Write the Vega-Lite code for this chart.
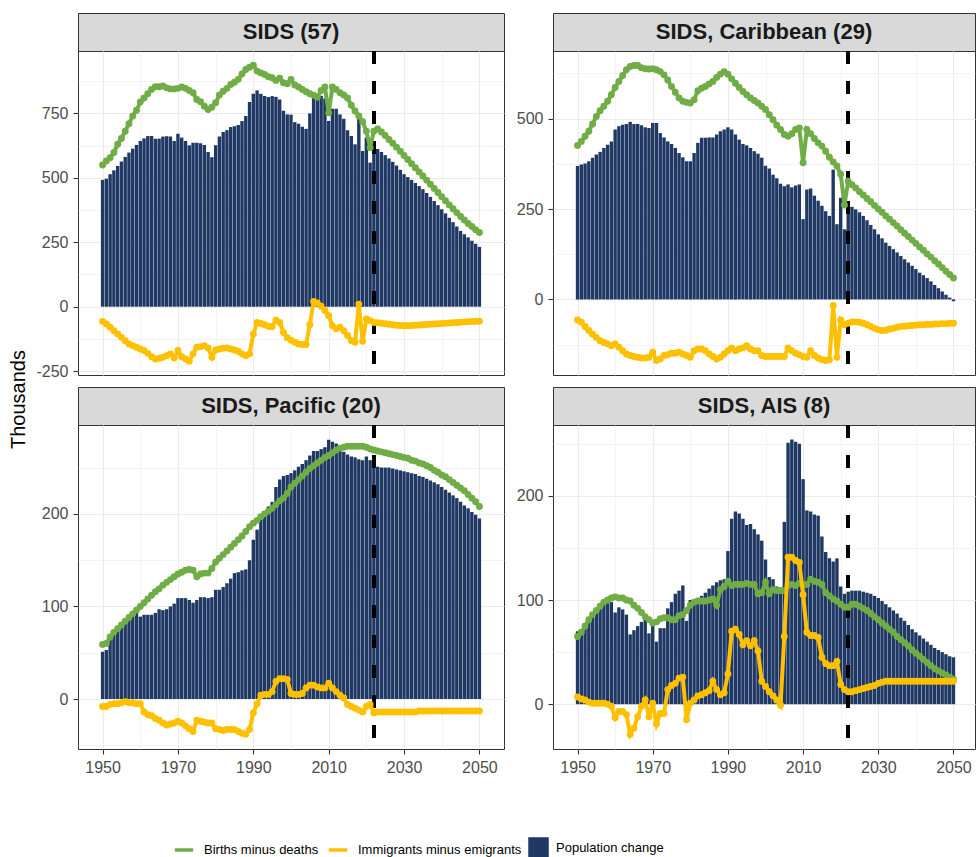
{
"$schema": "https://vega.github.io/schema/vega-lite/v6.json",
"background": "white",
"autosize": {"type": "pad"},
"padding": {"left": 7, "top": 12, "right": 0, "bottom": 0},
"datasets": {
"sids": [
{"year":1950,"pop":492,"nat":550,"mig":-57},{"year":1951,"pop":496,"nat":565,"mig":-67},{"year":1952,"pop":514,"nat":578,"mig":-80},{"year":1953,"pop":529,"nat":598,"mig":-93},{"year":1954,"pop":546,"nat":630,"mig":-106},{"year":1955,"pop":563,"nat":653,"mig":-119},{"year":1956,"pop":581,"nat":681,"mig":-132},{"year":1957,"pop":598,"nat":710,"mig":-145},{"year":1958,"pop":613,"nat":740,"mig":-151},{"year":1959,"pop":627,"nat":762,"mig":-157},
{"year":1960,"pop":643,"nat":794,"mig":-164},{"year":1961,"pop":653,"nat":810,"mig":-170},{"year":1962,"pop":662,"nat":826,"mig":-181},{"year":1963,"pop":662,"nat":843,"mig":-194},{"year":1964,"pop":652,"nat":853,"mig":-203},{"year":1965,"pop":652,"nat":853,"mig":-200},{"year":1966,"pop":660,"nat":856,"mig":-196},{"year":1967,"pop":661,"nat":849,"mig":-190},{"year":1968,"pop":660,"nat":845,"mig":-183},{"year":1969,"pop":643,"nat":845,"mig":-199},
{"year":1970,"pop":671,"nat":847,"mig":-170},{"year":1971,"pop":656,"nat":852,"mig":-194},{"year":1972,"pop":643,"nat":847,"mig":-203},{"year":1973,"pop":626,"nat":839,"mig":-212},{"year":1974,"pop":636,"nat":830,"mig":-183},{"year":1975,"pop":636,"nat":804,"mig":-157},{"year":1976,"pop":634,"nat":795,"mig":-155},{"year":1977,"pop":627,"nat":778,"mig":-151},{"year":1978,"pop":600,"nat":765,"mig":-160},{"year":1979,"pop":580,"nat":774,"mig":-196},
{"year":1980,"pop":626,"nat":791,"mig":-168},{"year":1981,"pop":660,"nat":821,"mig":-164},{"year":1982,"pop":678,"nat":836,"mig":-161},{"year":1983,"pop":685,"nat":847,"mig":-160},{"year":1984,"pop":697,"nat":862,"mig":-164},{"year":1985,"pop":700,"nat":871,"mig":-168},{"year":1986,"pop":705,"nat":882,"mig":-173},{"year":1987,"pop":720,"nat":903,"mig":-183},{"year":1988,"pop":740,"nat":920,"mig":-190},{"year":1989,"pop":794,"nat":929,"mig":-183},
{"year":1990,"pop":826,"nat":937,"mig":-106},{"year":1991,"pop":839,"nat":914,"mig":-61},{"year":1992,"pop":826,"nat":907,"mig":-65},{"year":1993,"pop":817,"nat":901,"mig":-70},{"year":1994,"pop":814,"nat":892,"mig":-77},{"year":1995,"pop":817,"nat":888,"mig":-77},{"year":1996,"pop":814,"nat":878,"mig":-52},{"year":1997,"pop":804,"nat":886,"mig":-61},{"year":1998,"pop":760,"nat":869,"mig":-100},{"year":1999,"pop":746,"nat":865,"mig":-120},
{"year":2000,"pop":745,"nat":882,"mig":-130},{"year":2001,"pop":716,"nat":860,"mig":-138},{"year":2002,"pop":710,"nat":852,"mig":-145},{"year":2003,"pop":698,"nat":843,"mig":-147},{"year":2004,"pop":690,"nat":834,"mig":-147},{"year":2005,"pop":750,"nat":826,"mig":-70},{"year":2006,"pop":830,"nat":820,"mig":20},{"year":2007,"pop":825,"nat":813,"mig":14},{"year":2008,"pop":818,"nat":839,"mig":2},{"year":2009,"pop":808,"nat":852,"mig":-15},
{"year":2010,"pop":720,"nat":752,"mig":-35},{"year":2011,"pop":768,"nat":852,"mig":-74},{"year":2012,"pop":768,"nat":843,"mig":-86},{"year":2013,"pop":746,"nat":830,"mig":-80},{"year":2014,"pop":729,"nat":821,"mig":-93},{"year":2015,"pop":685,"nat":810,"mig":-112},{"year":2016,"pop":662,"nat":782,"mig":-132},{"year":2017,"pop":630,"nat":759,"mig":-138},{"year":2018,"pop":729,"nat":740,"mig":10},{"year":2019,"pop":604,"nat":718,"mig":-134},
{"year":2020,"pop":656,"nat":681,"mig":-48},{"year":2021,"pop":559,"nat":617,"mig":-54},{"year":2022,"pop":620,"nat":681,"mig":-61},{"year":2023,"pop":612,"nat":690,"mig":-62},{"year":2024,"pop":600,"nat":678,"mig":-64},{"year":2025,"pop":588,"nat":664,"mig":-66},{"year":2026,"pop":575,"nat":649,"mig":-68},{"year":2027,"pop":562,"nat":634,"mig":-70},{"year":2028,"pop":548,"nat":619,"mig":-72},{"year":2029,"pop":531,"nat":603,"mig":-73},
{"year":2030,"pop":514,"nat":587,"mig":-74},{"year":2031,"pop":503,"nat":571,"mig":-74},{"year":2032,"pop":492,"nat":555,"mig":-73},{"year":2033,"pop":480,"nat":539,"mig":-72},{"year":2034,"pop":468,"nat":523,"mig":-71},{"year":2035,"pop":456,"nat":507,"mig":-70},{"year":2036,"pop":441,"nat":491,"mig":-69},{"year":2037,"pop":426,"nat":475,"mig":-68},{"year":2038,"pop":410,"nat":459,"mig":-67},{"year":2039,"pop":394,"nat":443,"mig":-66},
{"year":2040,"pop":378,"nat":427,"mig":-65},{"year":2041,"pop":362,"nat":411,"mig":-64},{"year":2042,"pop":345,"nat":395,"mig":-63},{"year":2043,"pop":328,"nat":380,"mig":-62},{"year":2044,"pop":311,"nat":365,"mig":-61},{"year":2045,"pop":294,"nat":350,"mig":-60},{"year":2046,"pop":281,"nat":336,"mig":-59},{"year":2047,"pop":269,"nat":323,"mig":-58},{"year":2048,"pop":256,"nat":311,"mig":-57},{"year":2049,"pop":244,"nat":299,"mig":-57},
{"year":2050,"pop":232,"nat":288,"mig":-56}
],
"car": [
{"year":1950,"pop":369,"nat":426,"mig":-57},{"year":1951,"pop":373,"nat":437,"mig":-63},{"year":1952,"pop":376,"nat":451,"mig":-75},{"year":1953,"pop":382,"nat":465,"mig":-86},{"year":1954,"pop":392,"nat":485,"mig":-96},{"year":1955,"pop":401,"nat":506,"mig":-105},{"year":1956,"pop":408,"nat":522,"mig":-114},{"year":1957,"pop":419,"nat":534,"mig":-119},{"year":1958,"pop":428,"nat":548,"mig":-123},{"year":1959,"pop":437,"nat":566,"mig":-128},
{"year":1960,"pop":470,"nat":586,"mig":-123},{"year":1961,"pop":479,"nat":603,"mig":-132},{"year":1962,"pop":483,"nat":619,"mig":-142},{"year":1963,"pop":485,"nat":635,"mig":-151},{"year":1964,"pop":491,"nat":644,"mig":-155},{"year":1965,"pop":485,"nat":647,"mig":-158},{"year":1966,"pop":485,"nat":647,"mig":-160},{"year":1967,"pop":482,"nat":641,"mig":-162},{"year":1968,"pop":476,"nat":638,"mig":-162},{"year":1969,"pop":474,"nat":637,"mig":-160},
{"year":1970,"pop":488,"nat":638,"mig":-146},{"year":1971,"pop":488,"nat":635,"mig":-169},{"year":1972,"pop":460,"nat":630,"mig":-165},{"year":1973,"pop":448,"nat":621,"mig":-155},{"year":1974,"pop":437,"nat":607,"mig":-153},{"year":1975,"pop":430,"nat":589,"mig":-149},{"year":1976,"pop":419,"nat":573,"mig":-149},{"year":1977,"pop":405,"nat":557,"mig":-146},{"year":1978,"pop":393,"nat":548,"mig":-151},{"year":1979,"pop":382,"nat":545,"mig":-155},
{"year":1980,"pop":382,"nat":543,"mig":-160},{"year":1981,"pop":405,"nat":552,"mig":-142},{"year":1982,"pop":433,"nat":577,"mig":-137},{"year":1983,"pop":447,"nat":584,"mig":-137},{"year":1984,"pop":447,"nat":589,"mig":-142},{"year":1985,"pop":448,"nat":596,"mig":-151},{"year":1986,"pop":448,"nat":603,"mig":-158},{"year":1987,"pop":456,"nat":614,"mig":-165},{"year":1988,"pop":465,"nat":623,"mig":-160},{"year":1989,"pop":470,"nat":630,"mig":-151},
{"year":1990,"pop":476,"nat":623,"mig":-142},{"year":1991,"pop":470,"nat":610,"mig":-134},{"year":1992,"pop":456,"nat":598,"mig":-142},{"year":1993,"pop":442,"nat":586,"mig":-137},{"year":1994,"pop":430,"nat":575,"mig":-134},{"year":1995,"pop":426,"nat":566,"mig":-128},{"year":1996,"pop":419,"nat":557,"mig":-137},{"year":1997,"pop":410,"nat":550,"mig":-142},{"year":1998,"pop":403,"nat":543,"mig":-142},{"year":1999,"pop":392,"nat":534,"mig":-155},
{"year":2000,"pop":370,"nat":525,"mig":-158},{"year":2001,"pop":362,"nat":511,"mig":-158},{"year":2002,"pop":345,"nat":497,"mig":-158},{"year":2003,"pop":335,"nat":482,"mig":-158},{"year":2004,"pop":320,"nat":470,"mig":-158},{"year":2005,"pop":313,"nat":456,"mig":-158},{"year":2006,"pop":318,"nat":451,"mig":-134},{"year":2007,"pop":310,"nat":458,"mig":-142},{"year":2008,"pop":315,"nat":470,"mig":-149},{"year":2009,"pop":318,"nat":474,"mig":-153},
{"year":2010,"pop":222,"nat":378,"mig":-158},{"year":2011,"pop":304,"nat":470,"mig":-160},{"year":2012,"pop":307,"nat":458,"mig":-142},{"year":2013,"pop":287,"nat":445,"mig":-155},{"year":2014,"pop":273,"nat":433,"mig":-162},{"year":2015,"pop":259,"nat":424,"mig":-167},{"year":2016,"pop":244,"nat":410,"mig":-169},{"year":2017,"pop":231,"nat":393,"mig":-167},{"year":2018,"pop":359,"nat":380,"mig":-17},{"year":2019,"pop":208,"nat":369,"mig":-160},
{"year":2020,"pop":281,"nat":346,"mig":-57},{"year":2021,"pop":194,"nat":261,"mig":-70},{"year":2022,"pop":262,"nat":327,"mig":-66},{"year":2023,"pop":256,"nat":317,"mig":-62},{"year":2024,"pop":249,"nat":308,"mig":-62},{"year":2025,"pop":241,"nat":298,"mig":-63},{"year":2026,"pop":231,"nat":289,"mig":-66},{"year":2027,"pop":219,"nat":279,"mig":-70},{"year":2028,"pop":206,"nat":270,"mig":-75},{"year":2029,"pop":194,"nat":260,"mig":-80},
{"year":2030,"pop":180,"nat":250,"mig":-84},{"year":2031,"pop":169,"nat":241,"mig":-86},{"year":2032,"pop":157,"nat":231,"mig":-85},{"year":2033,"pop":148,"nat":222,"mig":-82},{"year":2034,"pop":139,"nat":212,"mig":-80},{"year":2035,"pop":130,"nat":203,"mig":-77},{"year":2036,"pop":120,"nat":193,"mig":-75},{"year":2037,"pop":111,"nat":183,"mig":-74},{"year":2038,"pop":102,"nat":174,"mig":-73},{"year":2039,"pop":93,"nat":164,"mig":-72},
{"year":2040,"pop":84,"nat":155,"mig":-71},{"year":2041,"pop":74,"nat":145,"mig":-70},{"year":2042,"pop":67,"nat":136,"mig":-70},{"year":2043,"pop":59,"nat":126,"mig":-69},{"year":2044,"pop":50,"nat":117,"mig":-69},{"year":2045,"pop":40,"nat":107,"mig":-68},{"year":2046,"pop":31,"nat":98,"mig":-68},{"year":2047,"pop":22,"nat":88,"mig":-67},{"year":2048,"pop":13,"nat":78,"mig":-67},{"year":2049,"pop":5,"nat":69,"mig":-66},
{"year":2050,"pop":-5,"nat":59,"mig":-66}
],
"pac": [
{"year":1950,"pop":51,"nat":59,"mig":-8},{"year":1951,"pop":53,"nat":60,"mig":-8},{"year":1952,"pop":65,"nat":67,"mig":-6},{"year":1953,"pop":71,"nat":72,"mig":-5},{"year":1954,"pop":75,"nat":76,"mig":-5},{"year":1955,"pop":79,"nat":80,"mig":-4},{"year":1956,"pop":82,"nat":84,"mig":-3},{"year":1957,"pop":87,"nat":88,"mig":-4},{"year":1958,"pop":92,"nat":92,"mig":-4},{"year":1959,"pop":96,"nat":96,"mig":-5},
{"year":1960,"pop":89,"nat":100,"mig":-5},{"year":1961,"pop":91,"nat":104,"mig":-14},{"year":1962,"pop":91,"nat":108,"mig":-17},{"year":1963,"pop":91,"nat":112,"mig":-18},{"year":1964,"pop":93,"nat":116,"mig":-21},{"year":1965,"pop":97,"nat":119,"mig":-23},{"year":1966,"pop":96,"nat":123,"mig":-26},{"year":1967,"pop":97,"nat":126,"mig":-28},{"year":1968,"pop":100,"nat":129,"mig":-27},{"year":1969,"pop":103,"nat":132,"mig":-26},
{"year":1970,"pop":109,"nat":135,"mig":-24},{"year":1971,"pop":109,"nat":137,"mig":-26},{"year":1972,"pop":109,"nat":139,"mig":-29},{"year":1973,"pop":107,"nat":140,"mig":-32},{"year":1974,"pop":104,"nat":139,"mig":-35},{"year":1975,"pop":107,"nat":132,"mig":-23},{"year":1976,"pop":110,"nat":135,"mig":-24},{"year":1977,"pop":110,"nat":136,"mig":-25},{"year":1978,"pop":109,"nat":136,"mig":-26},{"year":1979,"pop":110,"nat":141,"mig":-26},
{"year":1980,"pop":118,"nat":148,"mig":-32},{"year":1981,"pop":118,"nat":152,"mig":-33},{"year":1982,"pop":121,"nat":156,"mig":-34},{"year":1983,"pop":125,"nat":160,"mig":-33},{"year":1984,"pop":130,"nat":164,"mig":-33},{"year":1985,"pop":136,"nat":168,"mig":-33},{"year":1986,"pop":137,"nat":172,"mig":-35},{"year":1987,"pop":139,"nat":176,"mig":-37},{"year":1988,"pop":140,"nat":181,"mig":-38},{"year":1989,"pop":150,"nat":186,"mig":-33},
{"year":1990,"pop":172,"nat":190,"mig":-15},{"year":1991,"pop":183,"nat":193,"mig":-5},{"year":1992,"pop":197,"nat":197,"mig":4},{"year":1993,"pop":202,"nat":200,"mig":5},{"year":1994,"pop":208,"nat":203,"mig":5},{"year":1995,"pop":213,"nat":206,"mig":8},{"year":1996,"pop":229,"nat":210,"mig":19},{"year":1997,"pop":237,"nat":214,"mig":22},{"year":1998,"pop":241,"nat":217,"mig":22},{"year":1999,"pop":242,"nat":222,"mig":21},
{"year":2000,"pop":244,"nat":229,"mig":6},{"year":2001,"pop":247,"nat":233,"mig":5},{"year":2002,"pop":251,"nat":237,"mig":5},{"year":2003,"pop":254,"nat":241,"mig":6},{"year":2004,"pop":258,"nat":245,"mig":12},{"year":2005,"pop":263,"nat":249,"mig":15},{"year":2006,"pop":268,"nat":252,"mig":15},{"year":2007,"pop":268,"nat":255,"mig":13},{"year":2008,"pop":270,"nat":258,"mig":12},{"year":2009,"pop":272,"nat":261,"mig":12},
{"year":2010,"pop":280,"nat":263,"mig":17},{"year":2011,"pop":278,"nat":266,"mig":12},{"year":2012,"pop":276,"nat":269,"mig":8},{"year":2013,"pop":270,"nat":271,"mig":4},{"year":2014,"pop":267,"nat":272,"mig":1},{"year":2015,"pop":264,"nat":273,"mig":-6},{"year":2016,"pop":262,"nat":273,"mig":-8},{"year":2017,"pop":261,"nat":273,"mig":-10},{"year":2018,"pop":259,"nat":273,"mig":-12},{"year":2019,"pop":258,"nat":273,"mig":-14},
{"year":2020,"pop":262,"nat":272,"mig":-8},{"year":2021,"pop":258,"nat":270,"mig":-6},{"year":2022,"pop":253,"nat":269,"mig":-15},{"year":2023,"pop":251,"nat":268,"mig":-14},{"year":2024,"pop":250,"nat":267,"mig":-14},{"year":2025,"pop":250,"nat":266,"mig":-14},{"year":2026,"pop":250,"nat":265,"mig":-14},{"year":2027,"pop":249,"nat":264,"mig":-14},{"year":2028,"pop":248,"nat":263,"mig":-14},{"year":2029,"pop":247,"nat":262,"mig":-14},
{"year":2030,"pop":246,"nat":261,"mig":-14},{"year":2031,"pop":245,"nat":260,"mig":-14},{"year":2032,"pop":244,"nat":258,"mig":-14},{"year":2033,"pop":243,"nat":257,"mig":-14},{"year":2034,"pop":241,"nat":255,"mig":-13},{"year":2035,"pop":240,"nat":254,"mig":-13},{"year":2036,"pop":238,"nat":252,"mig":-13},{"year":2037,"pop":236,"nat":250,"mig":-13},{"year":2038,"pop":234,"nat":247,"mig":-13},{"year":2039,"pop":232,"nat":245,"mig":-13},
{"year":2040,"pop":229,"nat":242,"mig":-13},{"year":2041,"pop":226,"nat":240,"mig":-13},{"year":2042,"pop":223,"nat":237,"mig":-13},{"year":2043,"pop":220,"nat":234,"mig":-13},{"year":2044,"pop":217,"nat":231,"mig":-13},{"year":2045,"pop":213,"nat":228,"mig":-13},{"year":2046,"pop":209,"nat":225,"mig":-13},{"year":2047,"pop":206,"nat":221,"mig":-13},{"year":2048,"pop":202,"nat":217,"mig":-13},{"year":2049,"pop":199,"nat":213,"mig":-13},
{"year":2050,"pop":195,"nat":208,"mig":-13}
],
"ais": [
{"year":1950,"pop":70,"nat":65,"mig":7},{"year":1951,"pop":72,"nat":69,"mig":5},{"year":1952,"pop":77,"nat":75,"mig":4},{"year":1953,"pop":80,"nat":81,"mig":2},{"year":1954,"pop":85,"nat":86,"mig":1},{"year":1955,"pop":89,"nat":90,"mig":1},{"year":1956,"pop":93,"nat":94,"mig":1},{"year":1957,"pop":96,"nat":98,"mig":1},{"year":1958,"pop":97,"nat":100,"mig":0},{"year":1959,"pop":98,"nat":102,"mig":-2},
{"year":1960,"pop":88,"nat":103,"mig":-13},{"year":1961,"pop":93,"nat":102,"mig":-7},{"year":1962,"pop":91,"nat":102,"mig":-7},{"year":1963,"pop":86,"nat":100,"mig":-10},{"year":1964,"pop":67,"nat":99,"mig":-29},{"year":1965,"pop":71,"nat":95,"mig":-23},{"year":1966,"pop":75,"nat":92,"mig":-12},{"year":1967,"pop":79,"nat":88,"mig":-2},{"year":1968,"pop":86,"nat":84,"mig":4},{"year":1969,"pop":68,"nat":81,"mig":-12},
{"year":1970,"pop":79,"nat":78,"mig":1},{"year":1971,"pop":60,"nat":79,"mig":-19},{"year":1972,"pop":73,"nat":82,"mig":-9},{"year":1973,"pop":73,"nat":83,"mig":-9},{"year":1974,"pop":92,"nat":83,"mig":14},{"year":1975,"pop":98,"nat":81,"mig":18},{"year":1976,"pop":106,"nat":81,"mig":20},{"year":1977,"pop":109,"nat":85,"mig":25},{"year":1978,"pop":114,"nat":86,"mig":26},{"year":1979,"pop":80,"nat":90,"mig":-15},
{"year":1980,"pop":100,"nat":95,"mig":1},{"year":1981,"pop":100,"nat":98,"mig":4},{"year":1982,"pop":102,"nat":99,"mig":8},{"year":1983,"pop":104,"nat":99,"mig":9},{"year":1984,"pop":107,"nat":99,"mig":11},{"year":1985,"pop":111,"nat":100,"mig":13},{"year":1986,"pop":114,"nat":101,"mig":22},{"year":1987,"pop":117,"nat":95,"mig":14},{"year":1988,"pop":119,"nat":110,"mig":9},{"year":1989,"pop":120,"nat":113,"mig":11},
{"year":1990,"pop":147,"nat":118,"mig":29},{"year":1991,"pop":178,"nat":114,"mig":70},{"year":1992,"pop":185,"nat":115,"mig":72},{"year":1993,"pop":183,"nat":115,"mig":67},{"year":1994,"pop":178,"nat":115,"mig":57},{"year":1995,"pop":172,"nat":116,"mig":61},{"year":1996,"pop":173,"nat":115,"mig":56},{"year":1997,"pop":168,"nat":115,"mig":61},{"year":1998,"pop":163,"nat":106,"mig":51},{"year":1999,"pop":157,"nat":107,"mig":22},
{"year":2000,"pop":139,"nat":117,"mig":17},{"year":2001,"pop":122,"nat":106,"mig":12},{"year":2002,"pop":120,"nat":110,"mig":8},{"year":2003,"pop":113,"nat":109,"mig":4},{"year":2004,"pop":112,"nat":109,"mig":-1},{"year":2005,"pop":175,"nat":109,"mig":65},{"year":2006,"pop":251,"nat":114,"mig":141},{"year":2007,"pop":254,"nat":115,"mig":141},{"year":2008,"pop":252,"nat":114,"mig":138},{"year":2009,"pop":250,"nat":116,"mig":136},
{"year":2010,"pop":216,"nat":115,"mig":105},{"year":2011,"pop":186,"nat":115,"mig":69},{"year":2012,"pop":185,"nat":120,"mig":66},{"year":2013,"pop":182,"nat":118,"mig":66},{"year":2014,"pop":181,"nat":117,"mig":64},{"year":2015,"pop":161,"nat":115,"mig":45},{"year":2016,"pop":146,"nat":107,"mig":39},{"year":2017,"pop":140,"nat":104,"mig":37},{"year":2018,"pop":137,"nat":101,"mig":37},{"year":2019,"pop":140,"nat":99,"mig":41},
{"year":2020,"pop":113,"nat":96,"mig":19},{"year":2021,"pop":106,"nat":93,"mig":14},{"year":2022,"pop":108,"nat":93,"mig":12},{"year":2023,"pop":109,"nat":96,"mig":12},{"year":2024,"pop":109,"nat":96,"mig":13},{"year":2025,"pop":109,"nat":94,"mig":14},{"year":2026,"pop":108,"nat":92,"mig":15},{"year":2027,"pop":107,"nat":90,"mig":16},{"year":2028,"pop":106,"nat":87,"mig":17},{"year":2029,"pop":104,"nat":84,"mig":18},
{"year":2030,"pop":102,"nat":81,"mig":20},{"year":2031,"pop":99,"nat":78,"mig":21},{"year":2032,"pop":96,"nat":75,"mig":22},{"year":2033,"pop":93,"nat":72,"mig":22},{"year":2034,"pop":90,"nat":69,"mig":22},{"year":2035,"pop":87,"nat":65,"mig":22},{"year":2036,"pop":83,"nat":62,"mig":22},{"year":2037,"pop":80,"nat":59,"mig":22},{"year":2038,"pop":76,"nat":56,"mig":22},{"year":2039,"pop":72,"nat":52,"mig":22},
{"year":2040,"pop":69,"nat":49,"mig":22},{"year":2041,"pop":66,"nat":46,"mig":22},{"year":2042,"pop":63,"nat":43,"mig":22},{"year":2043,"pop":60,"nat":40,"mig":22},{"year":2044,"pop":57,"nat":37,"mig":22},{"year":2045,"pop":54,"nat":34,"mig":22},{"year":2046,"pop":52,"nat":32,"mig":22},{"year":2047,"pop":50,"nat":30,"mig":22},{"year":2048,"pop":48,"nat":28,"mig":22},{"year":2049,"pop":46,"nat":26,"mig":22},
{"year":2050,"pop":45,"nat":24,"mig":22}
]
},
"columns": 2,
"bounds": "flush",
"align": "each",
"spacing": {"row": 0, "column": 49},
"concat": [
{"width": 426, "height": 38, "data": {"values": [{"label": "SIDS (57)"}]}, "view": {"fill": "#D9D9D9", "stroke": "#333333"},
 "mark": {"type": "text", "font": "Liberation Sans", "fontSize": 22, "fontWeight": "bold", "color": "#1A1A1A"},
 "encoding": {"text": {"field": "label"}}},
{"width": 422, "height": 38, "data": {"values": [{"label": "SIDS, Caribbean (29)"}]}, "view": {"fill": "#D9D9D9", "stroke": "#333333"},
 "mark": {"type": "text", "font": "Liberation Sans", "fontSize": 22, "fontWeight": "bold", "color": "#1A1A1A"},
 "encoding": {"text": {"field": "label"}}},
{"width": 426, "height": 324, "data": {"name": "sids"},
 "layer": [
  {"mark": {"type": "bar", "orient": "vertical", "width": 3.4},
   "encoding": {
    "x": {"field": "year", "type": "quantitative", "scale": {"domain": [1944.8, 2055.2], "nice": false, "zero": false}, "axis": {"title": null, "values": [1950,1960,1970,1980,1990,2000,2010,2020,2030,2040,2050], "labels": false, "ticks": false, "gridWidth": {"condition": {"test": "datum.value % 20 == 0", "value": 0.55}, "value": 1.1}}},
    "y": {"field": "pop", "type": "quantitative", "scale": {"domain": [-265, 992], "nice": false, "zero": false}, "axis": {"title": null, "values": [-250,-125,0,125,250,375,500,625,750,875], "labelExpr": "datum.value % 250 == 0 ? '' + datum.value : ''", "tickOpacity": {"condition": {"test": "datum.value % 250 != 0", "value": 0}, "value": 1}, "gridWidth": {"condition": {"test": "datum.value % 250 != 0", "value": 0.55}, "value": 1.1}}},
    "fill": {"datum": "Population change", "scale": {"domain": ["Population change"], "range": ["#1F3864"]}, "legend": {"title": null, "orient": "none", "legendX": 450, "legendY": 824, "symbolType": "square", "symbolSize": 420, "symbolStrokeWidth": 0, "labelFont": "Liberation Sans", "labelFontSize": 13, "labelLimit": 400, "labelColor": "#000000", "labelOffset": 7, "padding": 0}}
   }},
  {"mark": {"type": "rule", "color": "#000000", "strokeWidth": 3, "strokeDash": [13, 17]},
   "encoding": {"x": {"datum": 2022, "type": "quantitative"}}},
  {"mark": {"type": "line", "strokeWidth": 4, "point": {"filled": true, "size": 48}},
   "encoding": {
    "x": {"field": "year", "type": "quantitative", "scale": {"domain": [1944.8, 2055.2], "nice": false, "zero": false}, "axis": {"title": null, "values": [1950,1960,1970,1980,1990,2000,2010,2020,2030,2040,2050], "labels": false, "ticks": false, "gridWidth": {"condition": {"test": "datum.value % 20 == 0", "value": 0.55}, "value": 1.1}}},
    "y": {"field": "nat", "type": "quantitative", "scale": {"domain": [-265, 992], "nice": false, "zero": false}, "axis": {"title": null, "values": [-250,-125,0,125,250,375,500,625,750,875], "labelExpr": "datum.value % 250 == 0 ? '' + datum.value : ''", "tickOpacity": {"condition": {"test": "datum.value % 250 != 0", "value": 0}, "value": 1}, "gridWidth": {"condition": {"test": "datum.value % 250 != 0", "value": 0.55}, "value": 1.1}}},
    "color": {"datum": "Births minus deaths", "scale": {"domain": ["Births minus deaths", "Immigrants minus emigrants"], "range": ["#70AD47", "#FFC000"]}, "legend": {"title": null, "orient": "none", "legendX": 95, "legendY": 826, "direction": "horizontal", "symbolType": "stroke", "symbolStrokeWidth": 3.5, "symbolSize": 340, "labelFont": "Liberation Sans", "labelFontSize": 13, "labelLimit": 400, "labelColor": "#000000", "labelOffset": 9, "columnPadding": 2, "padding": 0}}
   }},
  {"mark": {"type": "line", "strokeWidth": 4, "point": {"filled": true, "size": 48}},
   "encoding": {
    "x": {"field": "year", "type": "quantitative", "scale": {"domain": [1944.8, 2055.2], "nice": false, "zero": false}, "axis": {"title": null, "values": [1950,1960,1970,1980,1990,2000,2010,2020,2030,2040,2050], "labels": false, "ticks": false, "gridWidth": {"condition": {"test": "datum.value % 20 == 0", "value": 0.55}, "value": 1.1}}},
    "y": {"field": "mig", "type": "quantitative", "scale": {"domain": [-265, 992], "nice": false, "zero": false}, "axis": {"title": null, "values": [-250,-125,0,125,250,375,500,625,750,875], "labelExpr": "datum.value % 250 == 0 ? '' + datum.value : ''", "tickOpacity": {"condition": {"test": "datum.value % 250 != 0", "value": 0}, "value": 1}, "gridWidth": {"condition": {"test": "datum.value % 250 != 0", "value": 0.55}, "value": 1.1}}},
    "color": {"datum": "Immigrants minus emigrants", "scale": {"domain": ["Births minus deaths", "Immigrants minus emigrants"], "range": ["#70AD47", "#FFC000"]}, "legend": {"title": null, "orient": "none", "legendX": 95, "legendY": 826, "direction": "horizontal", "symbolType": "stroke", "symbolStrokeWidth": 3.5, "symbolSize": 340, "labelFont": "Liberation Sans", "labelFontSize": 13, "labelLimit": 400, "labelColor": "#000000", "labelOffset": 9, "columnPadding": 2, "padding": 0}}
   }}
 ]},
{"width": 422, "height": 324, "data": {"name": "car"},
 "layer": [
  {"mark": {"type": "bar", "orient": "vertical", "width": 3.4},
   "encoding": {
    "x": {"field": "year", "type": "quantitative", "scale": {"domain": [1944.8, 2054.4], "nice": false, "zero": false}, "axis": {"title": null, "values": [1950,1960,1970,1980,1990,2000,2010,2020,2030,2040,2050], "labels": false, "ticks": false, "gridWidth": {"condition": {"test": "datum.value % 20 == 0", "value": 0.55}, "value": 1.1}}},
    "y": {"field": "pop", "type": "quantitative", "scale": {"domain": [-209, 687], "nice": false, "zero": false}, "axis": {"title": null, "values": [-125,0,125,250,375,500,625], "labelExpr": "datum.value % 250 == 0 ? '' + datum.value : ''", "tickOpacity": {"condition": {"test": "datum.value % 250 != 0", "value": 0}, "value": 1}, "gridWidth": {"condition": {"test": "datum.value % 250 != 0", "value": 0.55}, "value": 1.1}}},
    "fill": {"datum": "Population change", "scale": {"domain": ["Population change"], "range": ["#1F3864"]}, "legend": {"title": null, "orient": "none", "legendX": 450, "legendY": 824, "symbolType": "square", "symbolSize": 420, "symbolStrokeWidth": 0, "labelFont": "Liberation Sans", "labelFontSize": 13, "labelLimit": 400, "labelColor": "#000000", "labelOffset": 7, "padding": 0}}
   }},
  {"mark": {"type": "rule", "color": "#000000", "strokeWidth": 3, "strokeDash": [13, 17]},
   "encoding": {"x": {"datum": 2022, "type": "quantitative"}}},
  {"mark": {"type": "line", "strokeWidth": 4, "point": {"filled": true, "size": 48}},
   "encoding": {
    "x": {"field": "year", "type": "quantitative", "scale": {"domain": [1944.8, 2054.4], "nice": false, "zero": false}, "axis": {"title": null, "values": [1950,1960,1970,1980,1990,2000,2010,2020,2030,2040,2050], "labels": false, "ticks": false, "gridWidth": {"condition": {"test": "datum.value % 20 == 0", "value": 0.55}, "value": 1.1}}},
    "y": {"field": "nat", "type": "quantitative", "scale": {"domain": [-209, 687], "nice": false, "zero": false}, "axis": {"title": null, "values": [-125,0,125,250,375,500,625], "labelExpr": "datum.value % 250 == 0 ? '' + datum.value : ''", "tickOpacity": {"condition": {"test": "datum.value % 250 != 0", "value": 0}, "value": 1}, "gridWidth": {"condition": {"test": "datum.value % 250 != 0", "value": 0.55}, "value": 1.1}}},
    "color": {"datum": "Births minus deaths", "scale": {"domain": ["Births minus deaths", "Immigrants minus emigrants"], "range": ["#70AD47", "#FFC000"]}, "legend": {"title": null, "orient": "none", "legendX": 95, "legendY": 826, "direction": "horizontal", "symbolType": "stroke", "symbolStrokeWidth": 3.5, "symbolSize": 340, "labelFont": "Liberation Sans", "labelFontSize": 13, "labelLimit": 400, "labelColor": "#000000", "labelOffset": 9, "columnPadding": 2, "padding": 0}}
   }},
  {"mark": {"type": "line", "strokeWidth": 4, "point": {"filled": true, "size": 48}},
   "encoding": {
    "x": {"field": "year", "type": "quantitative", "scale": {"domain": [1944.8, 2054.4], "nice": false, "zero": false}, "axis": {"title": null, "values": [1950,1960,1970,1980,1990,2000,2010,2020,2030,2040,2050], "labels": false, "ticks": false, "gridWidth": {"condition": {"test": "datum.value % 20 == 0", "value": 0.55}, "value": 1.1}}},
    "y": {"field": "mig", "type": "quantitative", "scale": {"domain": [-209, 687], "nice": false, "zero": false}, "axis": {"title": null, "values": [-125,0,125,250,375,500,625], "labelExpr": "datum.value % 250 == 0 ? '' + datum.value : ''", "tickOpacity": {"condition": {"test": "datum.value % 250 != 0", "value": 0}, "value": 1}, "gridWidth": {"condition": {"test": "datum.value % 250 != 0", "value": 0.55}, "value": 1.1}}},
    "color": {"datum": "Immigrants minus emigrants", "scale": {"domain": ["Births minus deaths", "Immigrants minus emigrants"], "range": ["#70AD47", "#FFC000"]}, "legend": {"title": null, "orient": "none", "legendX": 95, "legendY": 826, "direction": "horizontal", "symbolType": "stroke", "symbolStrokeWidth": 3.5, "symbolSize": 340, "labelFont": "Liberation Sans", "labelFontSize": 13, "labelLimit": 400, "labelColor": "#000000", "labelOffset": 9, "columnPadding": 2, "padding": 0}}
   }}
 ]},
{"width": 426, "height": 12, "data": {"values": []}, "view": {"stroke": "transparent", "fill": "transparent"}, "mark": "text", "encoding": {}},
{"width": 422, "height": 12, "data": {"values": []}, "view": {"stroke": "transparent", "fill": "transparent"}, "mark": "text", "encoding": {}},
{"width": 426, "height": 38, "data": {"values": [{"label": "SIDS, Pacific (20)"}]}, "view": {"fill": "#D9D9D9", "stroke": "#333333"},
 "mark": {"type": "text", "font": "Liberation Sans", "fontSize": 22, "fontWeight": "bold", "color": "#1A1A1A"},
 "encoding": {"text": {"field": "label"}}},
{"width": 422, "height": 38, "data": {"values": [{"label": "SIDS, AIS (8)"}]}, "view": {"fill": "#D9D9D9", "stroke": "#333333"},
 "mark": {"type": "text", "font": "Liberation Sans", "fontSize": 22, "fontWeight": "bold", "color": "#1A1A1A"},
 "encoding": {"text": {"field": "label"}}},
{"width": 426, "height": 324, "data": {"name": "pac"},
 "layer": [
  {"mark": {"type": "bar", "orient": "vertical", "width": 3.4},
   "encoding": {
    "x": {"field": "year", "type": "quantitative", "scale": {"domain": [1944.8, 2055.2], "nice": false, "zero": false}, "axis": {"title": null, "values": [1950,1960,1970,1980,1990,2000,2010,2020,2030,2040,2050], "labelExpr": "datum.value % 20 == 10 ? '' + datum.value : ''", "tickOpacity": {"condition": {"test": "datum.value % 20 == 0", "value": 0}, "value": 1}, "gridWidth": {"condition": {"test": "datum.value % 20 == 0", "value": 0.55}, "value": 1.1}}},
    "y": {"field": "pop", "type": "quantitative", "scale": {"domain": [-54, 296], "nice": false, "zero": false}, "axis": {"title": "Thousands", "titleX": -60, "titleY": -26, "titleAngle": -90, "titleBaseline": "middle", "titleAlign": "center", "values": [-50,0,50,100,150,200,250], "labelExpr": "datum.value % 100 == 0 ? '' + datum.value : ''", "tickOpacity": {"condition": {"test": "datum.value % 100 != 0", "value": 0}, "value": 1}, "gridWidth": {"condition": {"test": "datum.value % 100 != 0", "value": 0.55}, "value": 1.1}}},
    "fill": {"datum": "Population change", "scale": {"domain": ["Population change"], "range": ["#1F3864"]}, "legend": {"title": null, "orient": "none", "legendX": 450, "legendY": 824, "symbolType": "square", "symbolSize": 420, "symbolStrokeWidth": 0, "labelFont": "Liberation Sans", "labelFontSize": 13, "labelLimit": 400, "labelColor": "#000000", "labelOffset": 7, "padding": 0}}
   }},
  {"mark": {"type": "rule", "color": "#000000", "strokeWidth": 3, "strokeDash": [13, 17]},
   "encoding": {"x": {"datum": 2022, "type": "quantitative"}}},
  {"mark": {"type": "line", "strokeWidth": 4, "point": {"filled": true, "size": 48}},
   "encoding": {
    "x": {"field": "year", "type": "quantitative", "scale": {"domain": [1944.8, 2055.2], "nice": false, "zero": false}, "axis": {"title": null, "values": [1950,1960,1970,1980,1990,2000,2010,2020,2030,2040,2050], "labelExpr": "datum.value % 20 == 10 ? '' + datum.value : ''", "tickOpacity": {"condition": {"test": "datum.value % 20 == 0", "value": 0}, "value": 1}, "gridWidth": {"condition": {"test": "datum.value % 20 == 0", "value": 0.55}, "value": 1.1}}},
    "y": {"field": "nat", "type": "quantitative", "scale": {"domain": [-54, 296], "nice": false, "zero": false}, "axis": {"title": "Thousands", "titleX": -60, "titleY": -26, "titleAngle": -90, "titleBaseline": "middle", "titleAlign": "center", "values": [-50,0,50,100,150,200,250], "labelExpr": "datum.value % 100 == 0 ? '' + datum.value : ''", "tickOpacity": {"condition": {"test": "datum.value % 100 != 0", "value": 0}, "value": 1}, "gridWidth": {"condition": {"test": "datum.value % 100 != 0", "value": 0.55}, "value": 1.1}}},
    "color": {"datum": "Births minus deaths", "scale": {"domain": ["Births minus deaths", "Immigrants minus emigrants"], "range": ["#70AD47", "#FFC000"]}, "legend": {"title": null, "orient": "none", "legendX": 95, "legendY": 826, "direction": "horizontal", "symbolType": "stroke", "symbolStrokeWidth": 3.5, "symbolSize": 340, "labelFont": "Liberation Sans", "labelFontSize": 13, "labelLimit": 400, "labelColor": "#000000", "labelOffset": 9, "columnPadding": 2, "padding": 0}}
   }},
  {"mark": {"type": "line", "strokeWidth": 4, "point": {"filled": true, "size": 48}},
   "encoding": {
    "x": {"field": "year", "type": "quantitative", "scale": {"domain": [1944.8, 2055.2], "nice": false, "zero": false}, "axis": {"title": null, "values": [1950,1960,1970,1980,1990,2000,2010,2020,2030,2040,2050], "labelExpr": "datum.value % 20 == 10 ? '' + datum.value : ''", "tickOpacity": {"condition": {"test": "datum.value % 20 == 0", "value": 0}, "value": 1}, "gridWidth": {"condition": {"test": "datum.value % 20 == 0", "value": 0.55}, "value": 1.1}}},
    "y": {"field": "mig", "type": "quantitative", "scale": {"domain": [-54, 296], "nice": false, "zero": false}, "axis": {"title": "Thousands", "titleX": -60, "titleY": -26, "titleAngle": -90, "titleBaseline": "middle", "titleAlign": "center", "values": [-50,0,50,100,150,200,250], "labelExpr": "datum.value % 100 == 0 ? '' + datum.value : ''", "tickOpacity": {"condition": {"test": "datum.value % 100 != 0", "value": 0}, "value": 1}, "gridWidth": {"condition": {"test": "datum.value % 100 != 0", "value": 0.55}, "value": 1.1}}},
    "color": {"datum": "Immigrants minus emigrants", "scale": {"domain": ["Births minus deaths", "Immigrants minus emigrants"], "range": ["#70AD47", "#FFC000"]}, "legend": {"title": null, "orient": "none", "legendX": 95, "legendY": 826, "direction": "horizontal", "symbolType": "stroke", "symbolStrokeWidth": 3.5, "symbolSize": 340, "labelFont": "Liberation Sans", "labelFontSize": 13, "labelLimit": 400, "labelColor": "#000000", "labelOffset": 9, "columnPadding": 2, "padding": 0}}
   }}
 ]},
{"width": 422, "height": 324, "data": {"name": "ais"},
 "layer": [
  {"mark": {"type": "bar", "orient": "vertical", "width": 3.4},
   "encoding": {
    "x": {"field": "year", "type": "quantitative", "scale": {"domain": [1944.8, 2054.4], "nice": false, "zero": false}, "axis": {"title": null, "values": [1950,1960,1970,1980,1990,2000,2010,2020,2030,2040,2050], "labelExpr": "datum.value % 20 == 10 ? '' + datum.value : ''", "tickOpacity": {"condition": {"test": "datum.value % 20 == 0", "value": 0}, "value": 1}, "gridWidth": {"condition": {"test": "datum.value % 20 == 0", "value": 0.55}, "value": 1.1}}},
    "y": {"field": "pop", "type": "quantitative", "scale": {"domain": [-43, 268], "nice": false, "zero": false}, "axis": {"title": null, "values": [0,50,100,150,200,250], "labelExpr": "datum.value % 100 == 0 ? '' + datum.value : ''", "tickOpacity": {"condition": {"test": "datum.value % 100 != 0", "value": 0}, "value": 1}, "gridWidth": {"condition": {"test": "datum.value % 100 != 0", "value": 0.55}, "value": 1.1}}},
    "fill": {"datum": "Population change", "scale": {"domain": ["Population change"], "range": ["#1F3864"]}, "legend": {"title": null, "orient": "none", "legendX": 450, "legendY": 824, "symbolType": "square", "symbolSize": 420, "symbolStrokeWidth": 0, "labelFont": "Liberation Sans", "labelFontSize": 13, "labelLimit": 400, "labelColor": "#000000", "labelOffset": 7, "padding": 0}}
   }},
  {"mark": {"type": "rule", "color": "#000000", "strokeWidth": 3, "strokeDash": [13, 17]},
   "encoding": {"x": {"datum": 2022, "type": "quantitative"}}},
  {"mark": {"type": "line", "strokeWidth": 4, "point": {"filled": true, "size": 48}},
   "encoding": {
    "x": {"field": "year", "type": "quantitative", "scale": {"domain": [1944.8, 2054.4], "nice": false, "zero": false}, "axis": {"title": null, "values": [1950,1960,1970,1980,1990,2000,2010,2020,2030,2040,2050], "labelExpr": "datum.value % 20 == 10 ? '' + datum.value : ''", "tickOpacity": {"condition": {"test": "datum.value % 20 == 0", "value": 0}, "value": 1}, "gridWidth": {"condition": {"test": "datum.value % 20 == 0", "value": 0.55}, "value": 1.1}}},
    "y": {"field": "nat", "type": "quantitative", "scale": {"domain": [-43, 268], "nice": false, "zero": false}, "axis": {"title": null, "values": [0,50,100,150,200,250], "labelExpr": "datum.value % 100 == 0 ? '' + datum.value : ''", "tickOpacity": {"condition": {"test": "datum.value % 100 != 0", "value": 0}, "value": 1}, "gridWidth": {"condition": {"test": "datum.value % 100 != 0", "value": 0.55}, "value": 1.1}}},
    "color": {"datum": "Births minus deaths", "scale": {"domain": ["Births minus deaths", "Immigrants minus emigrants"], "range": ["#70AD47", "#FFC000"]}, "legend": {"title": null, "orient": "none", "legendX": 95, "legendY": 826, "direction": "horizontal", "symbolType": "stroke", "symbolStrokeWidth": 3.5, "symbolSize": 340, "labelFont": "Liberation Sans", "labelFontSize": 13, "labelLimit": 400, "labelColor": "#000000", "labelOffset": 9, "columnPadding": 2, "padding": 0}}
   }},
  {"mark": {"type": "line", "strokeWidth": 4, "point": {"filled": true, "size": 48}},
   "encoding": {
    "x": {"field": "year", "type": "quantitative", "scale": {"domain": [1944.8, 2054.4], "nice": false, "zero": false}, "axis": {"title": null, "values": [1950,1960,1970,1980,1990,2000,2010,2020,2030,2040,2050], "labelExpr": "datum.value % 20 == 10 ? '' + datum.value : ''", "tickOpacity": {"condition": {"test": "datum.value % 20 == 0", "value": 0}, "value": 1}, "gridWidth": {"condition": {"test": "datum.value % 20 == 0", "value": 0.55}, "value": 1.1}}},
    "y": {"field": "mig", "type": "quantitative", "scale": {"domain": [-43, 268], "nice": false, "zero": false}, "axis": {"title": null, "values": [0,50,100,150,200,250], "labelExpr": "datum.value % 100 == 0 ? '' + datum.value : ''", "tickOpacity": {"condition": {"test": "datum.value % 100 != 0", "value": 0}, "value": 1}, "gridWidth": {"condition": {"test": "datum.value % 100 != 0", "value": 0.55}, "value": 1.1}}},
    "color": {"datum": "Immigrants minus emigrants", "scale": {"domain": ["Births minus deaths", "Immigrants minus emigrants"], "range": ["#70AD47", "#FFC000"]}, "legend": {"title": null, "orient": "none", "legendX": 95, "legendY": 826, "direction": "horizontal", "symbolType": "stroke", "symbolStrokeWidth": 3.5, "symbolSize": 340, "labelFont": "Liberation Sans", "labelFontSize": 13, "labelLimit": 400, "labelColor": "#000000", "labelOffset": 9, "columnPadding": 2, "padding": 0}}
   }}
 ]}
],
"config": {
 "font": "Liberation Sans",
 "view": {"stroke": "#333333", "strokeWidth": 1},
 "axis": {"domain": false, "labelFont": "Liberation Sans", "labelFontSize": 16, "labelColor": "#4D4D4D", "labelPadding": 5, "labelOverlap": false, "labelFlush": false, "tickColor": "#333333", "tickSize": 5, "tickWidth": 1.1, "gridColor": "#EBEBEB", "titleFont": "Liberation Sans", "titleFontSize": 20, "titleFontWeight": "normal", "titleColor": "#000000"}
}
}
